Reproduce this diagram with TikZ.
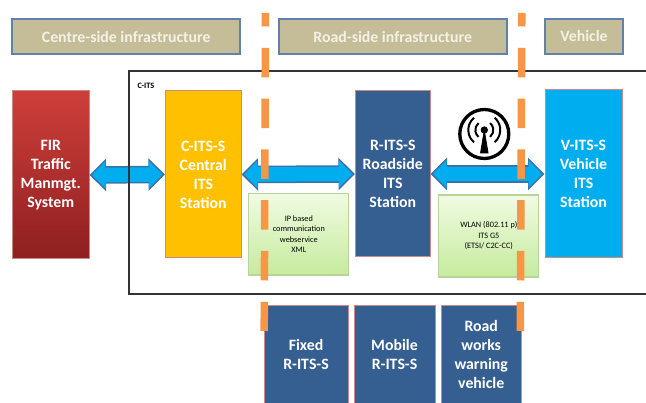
\documentclass[tikz,border=0pt]{standalone}
\usepackage{fontspec}
\setmainfont{Carlito}
\usetikzlibrary{arrows.meta,shadows}
\definecolor{headfill}{HTML}{C4BD97}
\definecolor{headline}{HTML}{5F81AC}
\definecolor{headtext}{HTML}{F4F2E6}
\definecolor{roadblue}{HTML}{365F91}
\definecolor{pinkline}{HTML}{C98A88}
\definecolor{firtop}{HTML}{CE3F3A}
\definecolor{firbot}{HTML}{8E1F20}
\definecolor{citsyellow}{HTML}{FFC000}
\definecolor{notetop}{HTML}{F0FBE2}
\definecolor{notebot}{HTML}{C6EB9E}
\definecolor{noteline}{HTML}{B9D49A}
\definecolor{linkblue}{HTML}{00ADEF}
\definecolor{linkline}{HTML}{3A72A8}
\definecolor{cutorange}{HTML}{F79646}
\tikzset{
	headbox/.style={draw=headline, line width=0.4mm, fill=headfill, text=headtext, font=\fontsize{9}{10.8}\selectfont\bfseries, minimum height=0.7cm, inner sep=0},
	stationbox/.style={draw=pinkline, line width=0.2mm, text=white, align=center, font=\fontsize{9}{10.8}\selectfont\bfseries, inner sep=0},
	notebox/.style={draw=noteline, line width=0.25mm, top color=notetop, bottom color=notebot, drop shadow={shadow xshift=0.1mm, shadow yshift=-0.3mm, opacity=0.35}, align=center, font=\fontsize{4.7}{6}\selectfont, minimum width=2cm, inner sep=0},
	linkouter/.style={draw=linkline, line width=3.5mm, {Triangle[length=3.3mm,width=6.3mm]}-{Triangle[length=3.3mm,width=6.3mm]}},
	linkinner/.style={draw=linkblue, line width=2.9mm, shorten <=0.5mm, shorten >=0.5mm, {Triangle[length=2.7mm,width=5.3mm]}-{Triangle[length=2.7mm,width=5.3mm]}},
	cutline/.style={draw=cutorange, line width=1.5mm, dash pattern=on 5.9mm off 4.26mm, dash phase=3.2mm}
}
\def\linkarrow(#1)(#2){\draw[linkouter] (#1) -- (#2); \draw[linkinner] (#1) -- (#2);}

\begin{document}
\begin{tikzpicture}
	\clip (0, 0) rectangle (12.92, 8.06);
	
	% header row
	\node[headbox, minimum width=4.55cm] (centreside) at (2.525, 7.32) {Centre-side infrastructure};
	\node[headbox, minimum width=4.55cm] (roadside) at (7.855, 7.32) {Road-side infrastructure};
	\node[headbox, minimum width=1.55cm] (vehicle) at (11.68, 7.33) {Vehicle};
	
	% stations
	\node[stationbox, top color=firtop, bottom color=firbot, minimum width=1.53cm, minimum height=3.36cm] (fir) at (1.015, 4.56) {FIR\\Traffic\\Manmgt.\\System};
	\node[stationbox, fill=citsyellow, minimum width=1.51cm, minimum height=3.34cm] (central) at (4.065, 4.57) {C-ITS-S\\Central\\ITS\\Station};
	\node[stationbox, fill=roadblue, minimum width=1.49cm, minimum height=3.32cm] (roadsta) at (7.855, 4.58) {R-ITS-S\\Roadside\\ITS\\Station};
	\node[stationbox, fill=linkblue, minimum width=1.54cm, minimum height=3.36cm] (vehsta) at (11.67, 4.58) {V-ITS-S\\Vehicle\\ITS\\Station};
	
	% notes
	\node[notebox, minimum height=1.63cm] (ipnote) at (5.977, 3.375) {IP based\\communication\\webservice\\XML};
	\node[notebox, minimum height=1.64cm] (wlannote) at (9.777, 3.34) {WLAN (802.11 p)\\ITS G5\\(ETSI/ C2C-CC)};
	
	% bottom row
	\node[stationbox, fill=roadblue, minimum width=1.68cm, minimum height=1.97cm] (fixed) at (6.12, 0.965) {Fixed\\R-ITS-S};
	\node[stationbox, fill=roadblue, minimum width=1.62cm, minimum height=1.97cm] (mobile) at (7.89, 0.965) {Mobile\\R-ITS-S};
	\node[stationbox, fill=roadblue, minimum width=1.59cm, minimum height=1.97cm] (works) at (9.625, 0.965) {Road\\works\\warning\\vehicle};
	
	\linkarrow(fir.east)(central.west)
	\linkarrow(central.east)(roadsta.west)
	\linkarrow(roadsta.east)(vehsta.west)
	
	% C-ITS frame
	\draw[line width=0.25mm, black!80] (2.58, 2.18) rectangle (13.1, 6.64);
	\node[font=\fontsize{4.7}{6}\selectfont\bfseries, inner sep=0] (citslabel) at (2.92, 6.34) {C-ITS};
	
	% wireless icon
	\draw[line width=0.66mm, fill=white] (9.686, 5.38) circle (0.49);
	\draw[fill=black] (9.686, 5.46) circle (0.065);
	\draw[fill=black] (9.686, 5.46) -- (9.61, 5.0) -- (9.762, 5.0) -- cycle;
	\foreach \r in {0.18, 0.32} {
		\draw[line width=0.4mm] (9.686, 5.46) ++(-50:\r) arc (-50:50:\r);
		\draw[line width=0.4mm] (9.686, 5.46) ++(130:\r) arc (130:230:\r);
	}
	
	% domain cuts
	\coordinate (cutatop) at (5.31, 7.8);
	\coordinate (cutabot) at (5.284, 1.44);
	\coordinate (cutbtop) at (10.436, 7.8);
	\coordinate (cutbbot) at (10.406, 1.44);
	\draw[cutline] (cutatop) -- (cutabot);
	\draw[cutline] (cutbtop) -- (cutbbot);
\end{tikzpicture}
\end{document}
